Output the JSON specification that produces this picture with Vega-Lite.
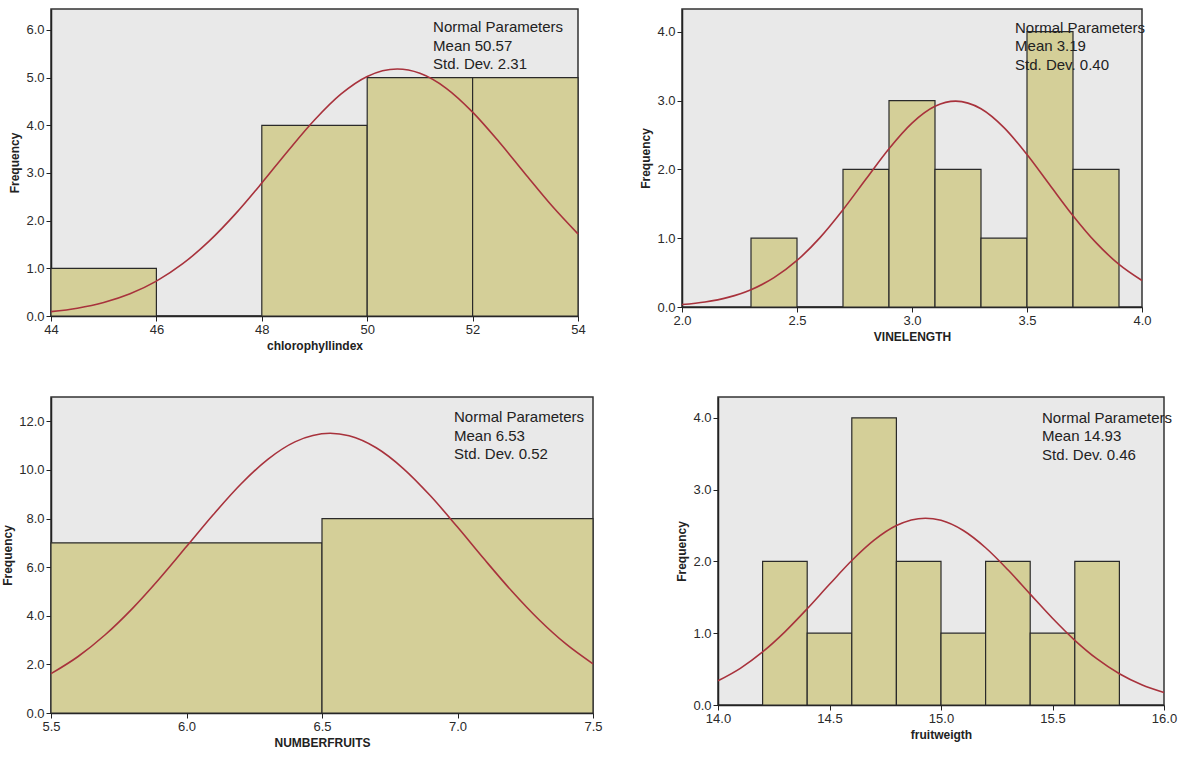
{
  "$schema": "https://vega.github.io/schema/vega-lite/v6.json",
  "padding": {"left": 0, "top": 8, "right": 5, "bottom": 5},
  "background": "white",
  "datasets": {
    "h1": [
      {"bin_start": 44, "bin_end": 46, "count": 1},
      {"bin_start": 46, "bin_end": 48, "count": 0},
      {"bin_start": 48, "bin_end": 50, "count": 4},
      {"bin_start": 50, "bin_end": 52, "count": 5},
      {"bin_start": 52, "bin_end": 54, "count": 5}
    ],
    "c1": [
      {"x": 44, "y": 0.091}, {"x": 44.5, "y": 0.164}, {"x": 45, "y": 0.283}, {"x": 45.5, "y": 0.466},
      {"x": 46, "y": 0.732}, {"x": 46.5, "y": 1.097}, {"x": 47, "y": 1.570}, {"x": 47.5, "y": 2.142},
      {"x": 48, "y": 2.789}, {"x": 48.5, "y": 3.467}, {"x": 49, "y": 4.111}, {"x": 49.5, "y": 4.653},
      {"x": 50, "y": 5.025}, {"x": 50.57, "y": 5.18}, {"x": 51, "y": 5.091}, {"x": 51.5, "y": 4.777},
      {"x": 52, "y": 4.277}, {"x": 52.5, "y": 3.654}, {"x": 53, "y": 2.979}, {"x": 53.5, "y": 2.317},
      {"x": 54, "y": 1.721}
    ],
    "h2": [
      {"bin_start": 2.3, "bin_end": 2.5, "count": 1},
      {"bin_start": 2.5, "bin_end": 2.7, "count": 0},
      {"bin_start": 2.7, "bin_end": 2.9, "count": 2},
      {"bin_start": 2.9, "bin_end": 3.1, "count": 3},
      {"bin_start": 3.1, "bin_end": 3.3, "count": 2},
      {"bin_start": 3.3, "bin_end": 3.5, "count": 1},
      {"bin_start": 3.5, "bin_end": 3.7, "count": 4},
      {"bin_start": 3.7, "bin_end": 3.9, "count": 2}
    ],
    "c2": [
      {"x": 2.0, "y": 0.036}, {"x": 2.1, "y": 0.073}, {"x": 2.2, "y": 0.140}, {"x": 2.3, "y": 0.252},
      {"x": 2.4, "y": 0.426}, {"x": 2.5, "y": 0.676}, {"x": 2.6, "y": 1.008}, {"x": 2.7, "y": 1.413},
      {"x": 2.8, "y": 1.860}, {"x": 2.9, "y": 2.301}, {"x": 3.0, "y": 2.673}, {"x": 3.1, "y": 2.917},
      {"x": 3.19, "y": 2.992}, {"x": 3.3, "y": 2.881}, {"x": 3.4, "y": 2.607}, {"x": 3.5, "y": 2.216},
      {"x": 3.6, "y": 1.769}, {"x": 3.7, "y": 1.327}, {"x": 3.8, "y": 0.935}, {"x": 3.9, "y": 0.619},
      {"x": 4.0, "y": 0.385}
    ],
    "h3": [
      {"bin_start": 5.5, "bin_end": 6.5, "count": 7},
      {"bin_start": 6.5, "bin_end": 7.5, "count": 8}
    ],
    "c3": [
      {"x": 5.5, "y": 1.618}, {"x": 5.6, "y": 2.325}, {"x": 5.7, "y": 3.219}, {"x": 5.8, "y": 4.296},
      {"x": 5.9, "y": 5.524}, {"x": 6.0, "y": 6.846}, {"x": 6.1, "y": 8.175}, {"x": 6.2, "y": 9.409},
      {"x": 6.3, "y": 10.436}, {"x": 6.4, "y": 11.154}, {"x": 6.53, "y": 11.508}, {"x": 6.6, "y": 11.404},
      {"x": 6.7, "y": 10.910}, {"x": 6.8, "y": 10.057}, {"x": 6.9, "y": 8.935}, {"x": 7.0, "y": 7.650},
      {"x": 7.1, "y": 6.311}, {"x": 7.2, "y": 5.018}, {"x": 7.3, "y": 3.845}, {"x": 7.4, "y": 2.839},
      {"x": 7.5, "y": 2.020}
    ],
    "h4": [
      {"bin_start": 14.2, "bin_end": 14.4, "count": 2},
      {"bin_start": 14.4, "bin_end": 14.6, "count": 1},
      {"bin_start": 14.6, "bin_end": 14.8, "count": 4},
      {"bin_start": 14.8, "bin_end": 15.0, "count": 2},
      {"bin_start": 15.0, "bin_end": 15.2, "count": 1},
      {"bin_start": 15.2, "bin_end": 15.4, "count": 2},
      {"bin_start": 15.4, "bin_end": 15.6, "count": 1},
      {"bin_start": 15.6, "bin_end": 15.8, "count": 2}
    ],
    "c4": [
      {"x": 14.0, "y": 0.337}, {"x": 14.1, "y": 0.511}, {"x": 14.2, "y": 0.739}, {"x": 14.3, "y": 1.019},
      {"x": 14.4, "y": 1.340}, {"x": 14.5, "y": 1.681}, {"x": 14.6, "y": 2.012}, {"x": 14.7, "y": 2.296},
      {"x": 14.8, "y": 2.500}, {"x": 14.93, "y": 2.602}, {"x": 15.0, "y": 2.572}, {"x": 15.1, "y": 2.430},
      {"x": 15.2, "y": 2.190}, {"x": 15.3, "y": 1.883}, {"x": 15.4, "y": 1.544}, {"x": 15.5, "y": 1.208},
      {"x": 15.6, "y": 0.901}, {"x": 15.7, "y": 0.641}, {"x": 15.8, "y": 0.435}, {"x": 15.9, "y": 0.282},
      {"x": 16.0, "y": 0.174}
    ],
    "n1": [{"label": "Normal Parameters\nMean 50.57\nStd. Dev. 2.31"}],
    "n2": [{"label": "Normal Parameters\nMean 3.19\nStd. Dev. 0.40"}],
    "n3": [{"label": "Normal Parameters\nMean 6.53\nStd. Dev. 0.52"}],
    "n4": [{"label": "Normal Parameters\nMean 14.93\nStd. Dev. 0.46"}]
  },
  "spacing": 44,
  "vconcat": [
    {
      "spacing": 53,
      "hconcat": [
        {
          "width": 527, "height": 307,
          "layer": [
            {
              "data": {"name": "h1"},
              "mark": {"type": "rect", "fill": "#d4cf98", "stroke": "#2a2a2a", "strokeWidth": 1.2},
              "encoding": {
                "x": {"field": "bin_start", "type": "quantitative", "scale": {"domain": [44, 54], "nice": false, "zero": false},
                      "axis": {"title": "chlorophyllindex", "values": [44, 46, 48, 50, 52, 54], "format": "d"}},
                "x2": {"field": "bin_end"},
                "y": {"field": "count", "type": "quantitative", "scale": {"domain": [0, 6.44], "nice": false},
                      "axis": {"title": "Frequency", "values": [0, 1, 2, 3, 4, 5, 6], "format": ".1f"}},
                "y2": {"datum": 0}
              }
            },
            {
              "data": {"name": "c1"},
              "mark": {"type": "line", "color": "#a8323c", "strokeWidth": 1.6, "interpolate": "monotone"},
              "encoding": {"x": {"field": "x", "type": "quantitative"}, "y": {"field": "y", "type": "quantitative"}}
            },
            {
              "data": {"name": "n1"},
              "mark": {"type": "text", "align": "left", "baseline": "top", "lineBreak": "\n", "fontSize": 15, "lineHeight": 18.5, "font": "Liberation Sans", "color": "#222"},
              "encoding": {"x": {"datum": 51.25, "type": "quantitative"}, "y": {"datum": 6.2, "type": "quantitative"}, "text": {"field": "label"}}
            }
          ]
        },
        {
          "width": 460, "height": 298,
          "layer": [
            {
              "data": {"name": "h2"},
              "mark": {"type": "rect", "fill": "#d4cf98", "stroke": "#2a2a2a", "strokeWidth": 1.2},
              "encoding": {
                "x": {"field": "bin_start", "type": "quantitative", "scale": {"domain": [2, 4], "nice": false, "zero": false},
                      "axis": {"title": "VINELENGTH", "values": [2, 2.5, 3, 3.5, 4], "format": ".1f"}},
                "x2": {"field": "bin_end"},
                "y": {"field": "count", "type": "quantitative", "scale": {"domain": [0, 4.33], "nice": false},
                      "axis": {"title": "Frequency", "values": [0, 1, 2, 3, 4], "format": ".1f"}},
                "y2": {"datum": 0}
              }
            },
            {
              "data": {"name": "c2"},
              "mark": {"type": "line", "color": "#a8323c", "strokeWidth": 1.6, "interpolate": "monotone"},
              "encoding": {"x": {"field": "x", "type": "quantitative"}, "y": {"field": "y", "type": "quantitative"}}
            },
            {
              "data": {"name": "n2"},
              "mark": {"type": "text", "align": "left", "baseline": "top", "lineBreak": "\n", "fontSize": 15, "lineHeight": 18.5, "font": "Liberation Sans", "color": "#222"},
              "encoding": {"x": {"datum": 3.448, "type": "quantitative"}, "y": {"datum": 4.16, "type": "quantitative"}, "text": {"field": "label"}}
            }
          ]
        }
      ]
    },
    {
      "spacing": 72,
      "hconcat": [
        {
          "width": 542, "height": 316,
          "layer": [
            {
              "data": {"name": "h3"},
              "mark": {"type": "rect", "fill": "#d4cf98", "stroke": "#2a2a2a", "strokeWidth": 1.2},
              "encoding": {
                "x": {"field": "bin_start", "type": "quantitative", "scale": {"domain": [5.5, 7.5], "nice": false, "zero": false},
                      "axis": {"title": "NUMBERFRUITS", "values": [5.5, 6, 6.5, 7, 7.5], "format": ".1f"}},
                "x2": {"field": "bin_end"},
                "y": {"field": "count", "type": "quantitative", "scale": {"domain": [0, 13], "nice": false},
                      "axis": {"title": "Frequency", "values": [0, 2, 4, 6, 8, 10, 12], "format": ".1f"}},
                "y2": {"datum": 0}
              }
            },
            {
              "data": {"name": "c3"},
              "mark": {"type": "line", "color": "#a8323c", "strokeWidth": 1.6, "interpolate": "monotone"},
              "encoding": {"x": {"field": "x", "type": "quantitative"}, "y": {"field": "y", "type": "quantitative"}}
            },
            {
              "data": {"name": "n3"},
              "mark": {"type": "text", "align": "left", "baseline": "top", "lineBreak": "\n", "fontSize": 15, "lineHeight": 18.5, "font": "Liberation Sans", "color": "#222"},
              "encoding": {"x": {"datum": 6.987, "type": "quantitative"}, "y": {"datum": 12.45, "type": "quantitative"}, "text": {"field": "label"}}
            }
          ]
        },
        {
          "width": 446, "height": 308,
          "layer": [
            {
              "data": {"name": "h4"},
              "mark": {"type": "rect", "fill": "#d4cf98", "stroke": "#2a2a2a", "strokeWidth": 1.2},
              "encoding": {
                "x": {"field": "bin_start", "type": "quantitative", "scale": {"domain": [14, 16], "nice": false, "zero": false},
                      "axis": {"title": "fruitweigth", "values": [14, 14.5, 15, 15.5, 16], "format": ".1f"}},
                "x2": {"field": "bin_end"},
                "y": {"field": "count", "type": "quantitative", "scale": {"domain": [0, 4.29], "nice": false},
                      "axis": {"title": "Frequency", "values": [0, 1, 2, 3, 4], "format": ".1f"}},
                "y2": {"datum": 0}
              }
            },
            {
              "data": {"name": "c4"},
              "mark": {"type": "line", "color": "#a8323c", "strokeWidth": 1.6, "interpolate": "monotone"},
              "encoding": {"x": {"field": "x", "type": "quantitative"}, "y": {"field": "y", "type": "quantitative"}}
            },
            {
              "data": {"name": "n4"},
              "mark": {"type": "text", "align": "left", "baseline": "top", "lineBreak": "\n", "fontSize": 15, "lineHeight": 18.5, "font": "Liberation Sans", "color": "#222"},
              "encoding": {"x": {"datum": 15.453, "type": "quantitative"}, "y": {"datum": 4.1, "type": "quantitative"}, "text": {"field": "label"}}
            }
          ]
        }
      ]
    }
  ],
  "config": {
    "view": {"fill": "#e9e9e9", "stroke": "#333333", "strokeWidth": 1.5},
    "axis": {
      "grid": false,
      "domainColor": "#222222",
      "domainWidth": 1.5,
      "tickColor": "#222222",
      "tickSize": 5,
      "labelFont": "Liberation Sans",
      "labelFontSize": 13,
      "labelColor": "#2a2a2a",
      "labelPadding": 2,
      "labelFlush": false,
      "titleFont": "Liberation Sans",
      "titleFontWeight": "bold",
      "titleFontSize": 12,
      "titleColor": "#222222",
      "titlePadding": 4
    }
  }
}
